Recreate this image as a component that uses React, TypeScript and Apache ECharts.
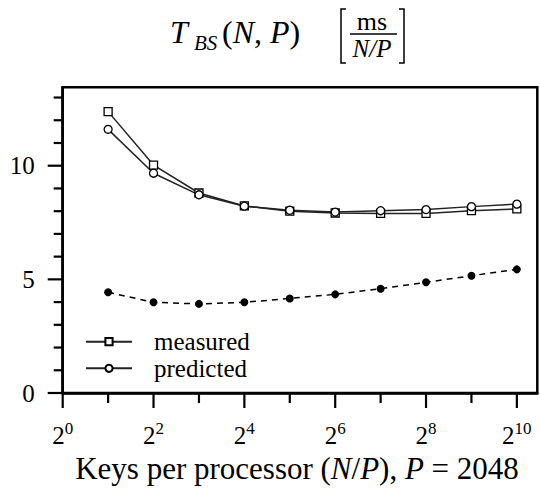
import React, { useEffect, useRef } from "react";
import * as echarts from "echarts";

// x = log2(N/P)
const xValues = [1, 2, 3, 4, 5, 6, 7, 8, 9, 10];
const measured = [12.38, 10.03, 8.8, 8.23, 8.0, 7.92, 7.9, 7.9, 8.02, 8.1];
const predicted = [11.6, 9.67, 8.72, 8.22, 8.04, 7.96, 8.02, 8.07, 8.2, 8.31];
const localPart = [4.43, 3.99, 3.92, 3.99, 4.16, 4.34, 4.59, 4.87, 5.16, 5.44];

const xMajorTicks = [0, 2, 4, 6, 8, 10];
const xMinorTicks = [1, 3, 5, 7, 9];
const yMajorTicks = [0, 5, 10];
const yMinorTicks = [1, 2, 3, 4, 6, 7, 8, 9, 11, 12, 13];

const FONT = "'Liberation Serif', 'DejaVu Serif', serif";

function tickSeries(values: number[], dir: "x" | "y", len: number) {
  return {
    type: "custom",
    silent: true,
    clip: false,
    z: 10,
    data: values.map((v) => (dir === "x" ? [v, 0] : [0, v])),
    renderItem: (_params: any, api: any) => {
      const p = api.coord([api.value(0), api.value(1)]);
      const shape =
        dir === "x"
          ? { x1: p[0], y1: p[1], x2: p[0], y2: p[1] + len }
          : { x1: p[0] - len, y1: p[1], x2: p[0], y2: p[1] };
      return { type: "line", shape, style: { stroke: "#000", lineWidth: 2.2 } };
    },
  };
}

export default function App() {
  const ref = useRef<HTMLDivElement>(null);
  useEffect(() => {
    if (!ref.current) return;
    const chart = echarts.init(ref.current, null, { renderer: "svg" });
    const lineCol = "#222";
    const option: any = {
      animation: false,
      backgroundColor: "#fff",
      grid: {
        left: 62.7,
        right: 2.7,
        top: 87.3,
        bottom: 104,
        show: true,
        borderColor: "#000",
        borderWidth: 2.5,
        containLabel: false,
      },
      legend: {
        orient: "vertical",
        left: 80,
        top: 323.4,
        itemWidth: 46,
        itemHeight: 9,
        itemGap: 0,
        data: ["measured", "predicted"],
        textStyle: {
          fontFamily: FONT,
          fontSize: 25,
          lineHeight: 26.6,
          color: "#000",
          padding: [0, 0, 0, 17],
        },
      },
      xAxis: {
        type: "value",
        min: 0,
        max: 10.45,
        interval: 2,
        axisLine: { show: true, lineStyle: { color: "#000", width: 2.5 } },
        axisTick: { show: false },
        axisLabel: {
          customValues: xMajorTicks,
          margin: 27,
          formatter: (v: number) => `{b|2}{s|${v}}`,
          rich: {
            b: { fontFamily: FONT, fontSize: 25, lineHeight: 30, color: "#000", verticalAlign: "middle" },
            s: { fontFamily: FONT, fontSize: 17, lineHeight: 20, color: "#000", verticalAlign: "top" },
          },
        },
        splitLine: { show: false },
      },
      yAxis: {
        type: "value",
        min: 0,
        max: 13.45,
        interval: 5,
        axisLine: { show: true, lineStyle: { color: "#000", width: 2.5 } },
        axisTick: { show: false },
        axisLabel: {
          customValues: yMajorTicks,
          margin: 28,
          fontFamily: FONT,
          fontSize: 25,
          color: "#000",
        },
        splitLine: { show: false },
      },
      series: [
        tickSeries(xMajorTicks, "x", 15),
        tickSeries(xMinorTicks, "x", 10),
        tickSeries(yMajorTicks, "y", 15),
        tickSeries(yMinorTicks, "y", 9),
        {
          name: "local",
          type: "line",
          data: xValues.map((x, i) => [x, localPart[i]]),
          symbol: "circle",
          symbolSize: 8,
          itemStyle: { color: "#000" },
          lineStyle: { color: "#000", width: 1.5, type: [6, 5] },
        },
        {
          name: "measured",
          type: "line",
          data: xValues.map((x, i) => [x, measured[i]]),
          symbol: "rect",
          symbolSize: 8,
          itemStyle: { color: "#fff", borderColor: "#000", borderWidth: 1.3 },
          lineStyle: { color: lineCol, width: 1.5 },
        },
        {
          name: "predicted",
          type: "line",
          data: xValues.map((x, i) => [x, predicted[i]]),
          symbol: "circle",
          symbolSize: 8,
          itemStyle: { color: "#fff", borderColor: "#000", borderWidth: 1.3 },
          lineStyle: { color: lineCol, width: 1.5 },
        },
      ],
      graphic: [
        {
          type: "text",
          left: 170,
          top: 16,
          style: { text: "T", font: `italic 32px ${FONT}`, fill: "#000" },
        },
        {
          type: "text",
          left: 194,
          top: 32,
          style: { text: "BS", font: `italic 21px ${FONT}`, fill: "#000" },
        },
        {
          type: "text",
          left: 222,
          top: 16,
          style: {
            text: "{r|(}{i|N}{r|, }{i|P}{r|)}",
            rich: {
              r: { fontFamily: FONT, fontSize: 32, fill: "#000" },
              i: { fontFamily: FONT, fontSize: 32, fontStyle: "italic", fill: "#000" },
            },
          },
        },
        {
          type: "text",
          x: 372,
          y: 21,
          style: { text: "ms", font: `26px ${FONT}`, fill: "#000", align: "center", verticalAlign: "middle" },
        },
        {
          type: "line",
          shape: { x1: 350, y1: 34, x2: 397, y2: 34 },
          style: { stroke: "#000", lineWidth: 1.5 },
        },
        {
          type: "text",
          x: 372,
          y: 48,
          style: { text: "N/P", font: `italic 25px ${FONT}`, fill: "#000", align: "center", verticalAlign: "middle" },
        },
        {
          type: "polyline",
          shape: { points: [[346, 9], [341, 9], [341, 63], [346, 63]] },
          style: { stroke: "#000", lineWidth: 1.5, fill: null },
        },
        {
          type: "polyline",
          shape: { points: [[399, 9], [404, 9], [404, 63], [399, 63]] },
          style: { stroke: "#000", lineWidth: 1.5, fill: null },
        },
        {
          type: "text",
          x: 297,
          y: 468,
          style: {
            text: "{r|Keys per processor (}{i|N}{r|/}{i|P}{r|), }{i|P}{r| = 2048}",
            align: "center",
            verticalAlign: "middle",
            rich: {
              r: { fontFamily: FONT, fontSize: 31, fill: "#000" },
              i: { fontFamily: FONT, fontSize: 31, fontStyle: "italic", fill: "#000" },
            },
          },
        },
      ],
    };
    chart.setOption(option);
    return () => chart.dispose();
  }, []);
  return (
    <div
      ref={ref}
      style={{ position: "fixed", left: 0, top: 0, width: 540, height: 497, background: "#fff" }}
    />
  );
}
